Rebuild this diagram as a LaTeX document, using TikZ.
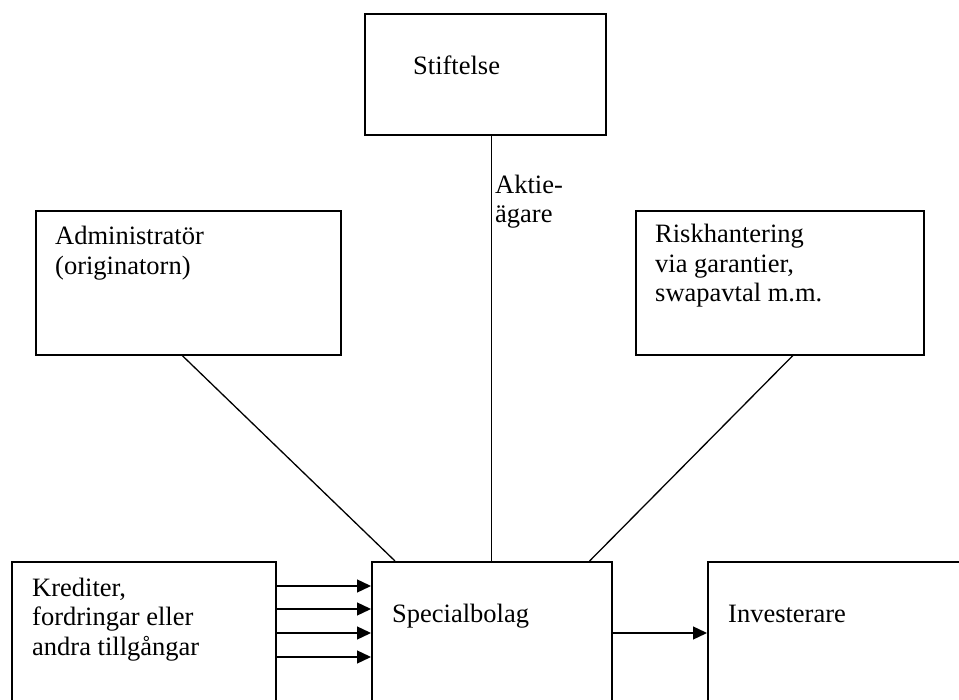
\documentclass[tikz,border=0pt]{standalone}
\usepackage{fontspec}
\setmainfont{Liberation Serif}
\usetikzlibrary{arrows.meta}
\tikzset{
  box/.style={draw, line width=1.6pt, inner sep=0pt, anchor=north west},
  txt/.style={font=\fontsize{26.5}{29.5}\selectfont, align=left, inner sep=0pt, anchor=base west},
  link/.style={line width=1.3pt},
  arr/.style={-{Triangle[length=14pt,width=13pt]}, line width=1.3pt}}

\begin{document}
\begin{tikzpicture}[x=1pt,y=-1pt]
  \useasboundingbox (0,0) rectangle (959,700);
  \clip (0,0) rectangle (959,700);
  % upper row
  \node[box, minimum width=241pt, minimum height=121pt] (stift) at (364,13) {};
  \node[box, minimum width=305pt, minimum height=144pt] (admin) at (35,210) {};
  \node[box, minimum width=288pt, minimum height=144pt] (risk) at (635,210) {};
  % lower row
  \node[box, minimum width=264pt, minimum height=170pt] (kred) at (11,561) {};
  \node[box, minimum width=240pt, minimum height=170pt] (spec) at (371,561) {};
  \node[box, minimum width=280pt, minimum height=170pt] (inv) at (707,561) {};
  % texts (base = last line)
  \node[txt] (stiftlbl) at ([shift={(49,62)}]stift.north west) {Stiftelse};
  \node[txt] (adminlbl) at ([shift={(20,64.5)}]admin.north west) {Administratör\\(originatorn)};
  \node[txt] (risklbl) at ([shift={(20,92)}]risk.north west) {Riskhantering\\via garantier,\\swapavtal m.m.};
  \node[txt] (kredlbl) at ([shift={(21,94)}]kred.north west) {Krediter,\\fordringar eller\\andra tillgångar};
  \node[txt] (speclbl) at ([shift={(21,61)}]spec.north west) {Specialbolag};
  \node[txt] (invlbl) at ([shift={(21,61)}]inv.north west) {Investerare};
  % links
  \draw[link] (spec.north) -- (spec.north |- stift.south);
  \node[txt] (aktie) at (495,223) {Aktie-\\ägare};
  \draw[link] ([xshift=-6pt]admin.south) -- ([xshift=24pt]spec.north west);
  \draw[link] ([xshift=13pt]risk.south) -- ([xshift=-23pt]spec.north east);
  \foreach \dy in {25,48,72,96}
    \draw[arr] ([yshift=-\dy pt]kred.north east) -- ([yshift=-\dy pt]spec.north west);
  \draw[arr] ([yshift=-72pt]spec.north east) -- ([yshift=-72pt]inv.north west);
\end{tikzpicture}
\end{document}
